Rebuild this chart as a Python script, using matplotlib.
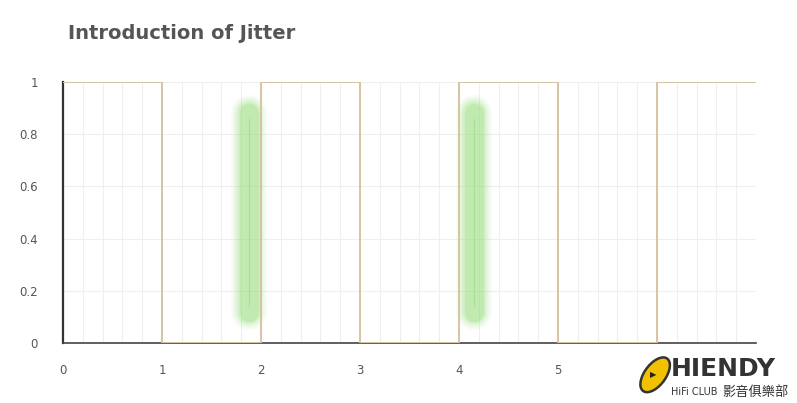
import numpy as np
import matplotlib.pyplot as plt
from matplotlib.patches import Ellipse

# square wave (clock signal)
edges = [0, 1, 2, 3, 4, 5, 6, 7]
levels = [1, 0, 1, 0, 1, 0, 1]

# jitter markers: position of the glow and its vertical span
jitter_x = [1.88, 4.15]
jitter_y0 = 0.12
jitter_y1 = 0.88

x_ticks = [0, 1, 2, 3, 4, 5]
y_ticks = [0, 0.2, 0.4, 0.6, 0.8, 1]
y_labels = ["0", "0.2", "0.4", "0.6", "0.8", "1"]

fig = plt.figure(figsize=(7.97, 4.03), dpi=100)
ax = fig.add_axes([0.079, 0.149, 0.8695, 0.6475])

# grid every 0.2
for gx in np.arange(0, 7.01, 0.2):
    ax.axvline(gx, color="#efefef", lw=0.8, zorder=0)
for gy in np.arange(0, 1.01, 0.2):
    ax.axhline(gy, color="#efefef", lw=0.8, zorder=0)

# soft glow for the jitter
for jx in jitter_x:
    for w, a in [(26, 0.06), (23, 0.08), (20, 0.12), (17, 0.18), (14, 0.25)]:
        ax.plot([jx, jx], [jitter_y0, jitter_y1], color="#8fdc70", lw=w,
                alpha=a, solid_capstyle="round", zorder=2)
    ax.plot([jx, jx], [jitter_y0 + 0.02, jitter_y1 - 0.02], color="#9ad680",
            lw=0.8, alpha=0.6, zorder=3)

# the square wave itself
xs = []
ys = []
for i, lv in enumerate(levels):
    xs += [edges[i], edges[i + 1]]
    ys += [lv, lv]
ax.plot(xs, ys, color="#d6c4a2", lw=1.4, zorder=4)

ax.set_xlim(0, 7)
ax.set_ylim(0, 1)
ax.set_xticks(x_ticks)
ax.set_xticklabels([str(t) for t in x_ticks])
ax.set_yticks(y_ticks)
ax.set_yticklabels(y_labels)
ax.tick_params(length=0, colors="#555555", labelsize=8.5)
ax.tick_params(axis="x", pad=15)
ax.tick_params(axis="y", pad=18)
for side in ["top", "right"]:
    ax.spines[side].set_visible(False)
ax.spines["left"].set_color("#333333")
ax.spines["left"].set_linewidth(1.6)
ax.spines["bottom"].set_color("#444444")
ax.spines["bottom"].set_linewidth(1.2)

fig.text(0.085, 0.918, "Introduction of Jitter", fontsize=14, fontweight="bold",
         color="#555555", va="center", ha="left")

# watermark logo bottom right
logo = Ellipse((0.822, 0.07), 0.030, 0.089, angle=-15, transform=fig.transFigure,
               facecolor="#f2c200", edgecolor="#333333", lw=1.8)
fig.patches.append(logo)
fig.text(0.820, 0.07, "▶", fontsize=6, color="#222222", va="center", ha="center")
fig.text(0.841, 0.055, "HIENDY", fontsize=18, fontweight="bold",
         color="#333333", va="bottom", ha="left")
fig.text(0.842, 0.027, "HiFi CLUB", fontsize=7, color="#333333",
         va="center", ha="left")
fig.text(0.906, 0.027, "影音俱樂部", fontsize=9.5, color="#333333",
         va="center", ha="left", family=["Noto Sans CJK TC", "DejaVu Sans"])

fig.savefig("out.png", dpi=100, facecolor="white")
